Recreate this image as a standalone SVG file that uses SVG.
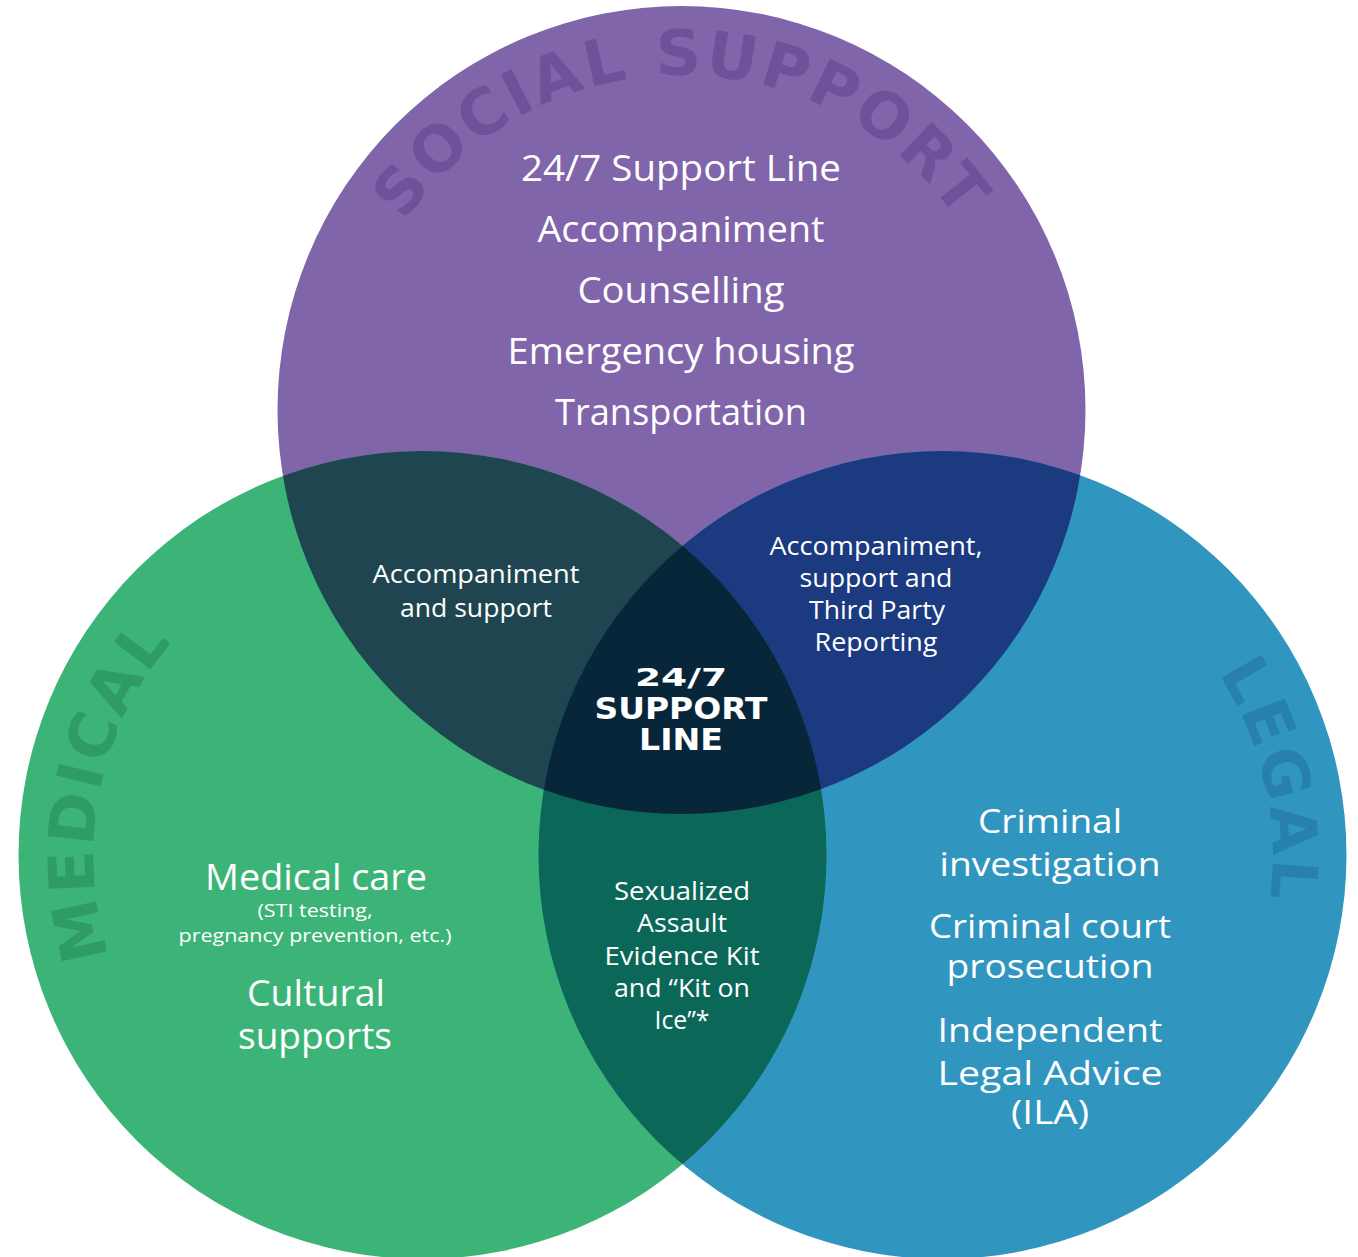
<svg xmlns="http://www.w3.org/2000/svg" width="1358" height="1257" viewBox="0 0 1358 1257">
<style>
.t{font-family:"Open Sans","Liberation Sans",sans-serif;fill:#ffffff;text-anchor:middle;}
.big{font-size:36px;}
.leg{font-size:32px;}
.mid{font-size:25px;}
.sm{font-size:19px;}
.ctr{font-family:"DejaVu Sans","Liberation Sans",sans-serif;font-weight:bold;fill:#ffffff;text-anchor:middle;}
.title{font-family:"DejaVu Sans","Liberation Sans",sans-serif;font-weight:bold;font-size:63px;letter-spacing:3px;text-anchor:middle;}
</style>
<defs>
<clipPath id="cP"><circle cx="681.5" cy="410" r="404"/></clipPath>
<clipPath id="cG"><circle cx="422.5" cy="855" r="404"/></clipPath>
<path id="arcTop" d="M346.5,410 A335,335 0 0 1 1016.5,410"/>
<path id="arcLeft" d="M422.5,1184 A329,329 0 0 1 422.5,526 A329,329 0 0 1 422.5,1184"/>
<path id="arcRight" d="M942.5,525 A330,330 0 0 1 942.5,1185 A330,330 0 0 1 942.5,525"/>
</defs>

<g id="circles">
<circle id="social" cx="681.5" cy="410" r="404" fill="#8165AA"/>
<circle id="medical" cx="422.5" cy="855" r="404" fill="#3DB477"/>
<circle id="legal" cx="942.5" cy="855" r="404" fill="#3196BF"/>
</g>

<g id="titles">
<text class="title" fill="#6D5299"><textPath href="#arcTop" startOffset="50%">SOCIAL SUPPORT</textPath></text>
<text class="title" fill="#2F9C63"><textPath href="#arcLeft" startOffset="582">MEDICAL</textPath></text>
<text class="title" fill="#2880AE"><textPath href="#arcRight" startOffset="445">LEGAL</textPath></text>
</g>

<g id="overlaps">
<circle cx="422.5" cy="855" r="404" fill="#1F4551" clip-path="url(#cP)"/>
<circle cx="942.5" cy="855" r="404" fill="#1B3A80" clip-path="url(#cP)"/>
<circle cx="942.5" cy="855" r="404" fill="#0B6858" clip-path="url(#cG)"/>
<g clip-path="url(#cP)"><circle cx="942.5" cy="855" r="404" fill="#07263A" clip-path="url(#cG)"/></g>
</g>

<g id="social-items">
<text class="t big" x="681" y="181" textLength="320" lengthAdjust="spacingAndGlyphs">24/7 Support Line</text>
<text class="t big" x="681" y="242" textLength="287" lengthAdjust="spacingAndGlyphs">Accompaniment</text>
<text class="t big" x="681" y="303" textLength="207" lengthAdjust="spacingAndGlyphs">Counselling</text>
<text class="t big" x="681" y="364" textLength="347" lengthAdjust="spacingAndGlyphs">Emergency housing</text>
<text class="t big" x="681" y="425" textLength="252" lengthAdjust="spacingAndGlyphs">Transportation</text>
</g>

<g id="social-medical">
<text class="t mid" x="476" y="583" textLength="207" lengthAdjust="spacingAndGlyphs">Accompaniment</text>
<text class="t mid" x="476" y="617" textLength="152" lengthAdjust="spacingAndGlyphs">and support</text>
</g>

<g id="social-legal">
<text class="t mid" x="876" y="555" textLength="213" lengthAdjust="spacingAndGlyphs">Accompaniment,</text>
<text class="t mid" x="876" y="587" textLength="153" lengthAdjust="spacingAndGlyphs">support and</text>
<text class="t mid" x="877" y="619" textLength="136" lengthAdjust="spacingAndGlyphs">Third Party</text>
<text class="t mid" x="876" y="651" textLength="123" lengthAdjust="spacingAndGlyphs">Reporting</text>
</g>

<g id="center">
<text class="ctr" x="681" y="686" font-size="25" textLength="92" lengthAdjust="spacingAndGlyphs">24/7</text>
<text class="ctr" x="681" y="719" font-size="30" textLength="173" lengthAdjust="spacingAndGlyphs">SUPPORT</text>
<text class="ctr" x="681" y="750" font-size="30" textLength="84" lengthAdjust="spacingAndGlyphs">LINE</text>
</g>

<g id="medical-legal">
<text class="t mid" x="682" y="900" textLength="136" lengthAdjust="spacingAndGlyphs">Sexualized</text>
<text class="t mid" x="682" y="932" textLength="90" lengthAdjust="spacingAndGlyphs">Assault</text>
<text class="t mid" x="682" y="965" textLength="155" lengthAdjust="spacingAndGlyphs">Evidence Kit</text>
<text class="t mid" x="682" y="997" textLength="136" lengthAdjust="spacingAndGlyphs">and “Kit on</text>
<text class="t mid" x="682" y="1029" textLength="55" lengthAdjust="spacingAndGlyphs">Ice”*</text>
</g>

<g id="medical-items">
<text class="t big" x="316" y="890" textLength="222" lengthAdjust="spacingAndGlyphs">Medical care</text>
<text class="t sm" x="315" y="917" textLength="115" lengthAdjust="spacingAndGlyphs">(STI testing,</text>
<text class="t sm" x="315" y="942" textLength="273" lengthAdjust="spacingAndGlyphs">pregnancy prevention, etc.)</text>
<text class="t big" x="316" y="1006" textLength="138" lengthAdjust="spacingAndGlyphs">Cultural</text>
<text class="t big" x="315" y="1049" textLength="154" lengthAdjust="spacingAndGlyphs">supports</text>
</g>

<g id="legal-items">
<text class="t leg" x="1050" y="833" textLength="144" lengthAdjust="spacingAndGlyphs">Criminal</text>
<text class="t leg" x="1050" y="876" textLength="221" lengthAdjust="spacingAndGlyphs">investigation</text>
<text class="t leg" x="1050" y="938" textLength="242" lengthAdjust="spacingAndGlyphs">Criminal court</text>
<text class="t leg" x="1050" y="978" textLength="207" lengthAdjust="spacingAndGlyphs">prosecution</text>
<text class="t leg" x="1050" y="1042" textLength="225" lengthAdjust="spacingAndGlyphs">Independent</text>
<text class="t leg" x="1050" y="1085" textLength="225" lengthAdjust="spacingAndGlyphs">Legal Advice</text>
<text class="t leg" x="1050" y="1124" textLength="78" lengthAdjust="spacingAndGlyphs">(ILA)</text>
</g>
</svg>
